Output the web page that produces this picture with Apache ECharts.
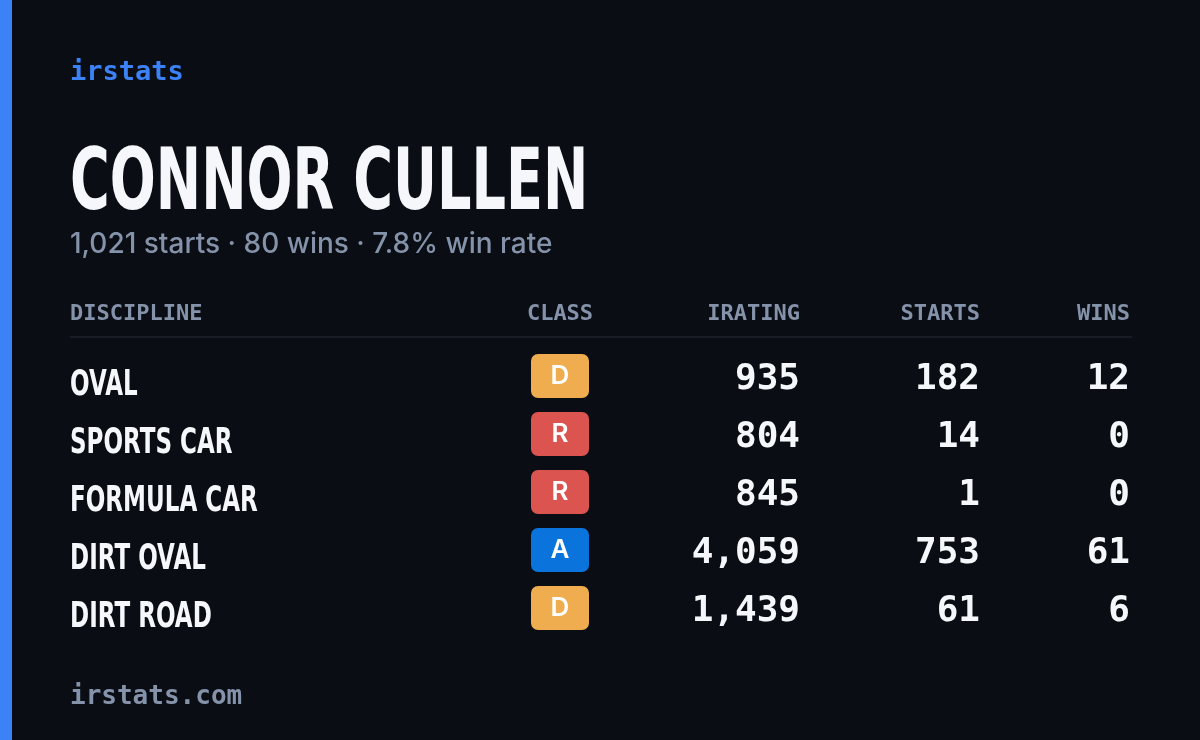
<!DOCTYPE html>
<html>
<head>
<meta charset="utf-8">
<script src="https://cdn.jsdelivr.net/npm/echarts@6/dist/echarts.min.js"></script>
<style>
  html, body { margin: 0; padding: 0; background: #0a0d14; }
  #chart { width: 1200px; height: 740px; }
</style>
</head>
<body>
<div id="chart"></div>
<script>
const driverName = 'CONNOR CULLEN'
const totalStarts = 1021
const totalWins = 80
const winRate = 7.8
const disciplines = ['OVAL', 'SPORTS CAR', 'FORMULA CAR', 'DIRT OVAL', 'DIRT ROAD']
const classes = ['D', 'R', 'R', 'A', 'D']
const iratings = [935, 804, 845, 4059, 1439]
const starts = [182, 14, 1, 753, 61]
const wins = [12, 0, 0, 61, 6]
const headers = ['DISCIPLINE', 'CLASS', 'IRATING', 'STARTS', 'WINS']

const classColors = { D: '#efad4f', R: '#db5450', A: '#0b74dc' }
const mono = '"DejaVu Sans Mono", monospace'
const narrow = '"DejaVu Sans", sans-serif'
const fmt = v => v.toLocaleString('en-US')

// column anchors (x pixels)
const colX = [70, 560, 800, 980, 1130]

const chart = echarts.init(document.getElementById('chart'))

chart.setOption({
    backgroundColor: '#0a0d14',
    animation: false,
    grid: { left: 0, right: 0, top: 349, bottom: 101 },
    xAxis: { type: 'value', min: 0, max: 1200, show: false },
    yAxis: { type: 'category', inverse: true, data: disciplines, show: false },
    graphic: [
        { type: 'rect', shape: { x: 0, y: 0, width: 12, height: 740 }, style: { fill: '#3b82f6' } },
        { type: 'text', x: 70, y: 73, style: { text: 'irstats', fill: '#3b82f6', font: 'bold 27px ' + mono, verticalAlign: 'middle' } },
        { type: 'text', x: 70, y: 187, scaleX: 0.63, style: { text: driverName, fill: '#f5f7fb', font: 'bold 86px ' + narrow, verticalAlign: 'middle' } },
        { type: 'text', x: 70, y: 245, style: {
            text: fmt(totalStarts) + ' starts · ' + totalWins + ' wins · ' + winRate.toFixed(1) + '% win rate',
            fill: '#8593aa', font: '500 28px Inter, "Noto Sans", sans-serif', verticalAlign: 'middle' } },
        ...headers.map((h, i) => ({
            type: 'text', x: colX[i], y: 314,
            style: { text: h, fill: '#8593aa', font: 'bold 22px ' + mono,
                align: i === 0 ? 'left' : (i === 1 ? 'center' : 'right'), verticalAlign: 'middle' }
        })),
        { type: 'rect', shape: { x: 70, y: 336, width: 1062, height: 2 }, style: { fill: '#181c27' } },
        { type: 'text', x: 70, y: 697, style: { text: 'irstats.com', fill: '#8593aa', font: 'bold 26px ' + mono, verticalAlign: 'middle' } }
    ],
    series: [{
        type: 'custom',
        data: disciplines.map((d, i) => [0, i]),
        renderItem: (params, api) => {
            const i = api.value(1)
            const y = api.coord([0, i])[1]
            const cls = classes[i]
            const num = (v, x) => ({ type: 'text', x: x, y: y + 2, style: { text: fmt(v), fill: '#f5f7fb',
                font: 'bold 36px ' + mono, align: 'right', verticalAlign: 'middle' } })
            return {
                type: 'group',
                children: [
                    { type: 'text', x: colX[0], y: y + 8, scaleX: 0.64, style: { text: disciplines[i], fill: '#f5f7fb',
                        font: 'bold 36px ' + narrow, verticalAlign: 'middle' } },
                    { type: 'rect', shape: { x: colX[1] - 29, y: y - 24, width: 58, height: 44, r: 7 },
                        style: { fill: classColors[cls] } },
                    { type: 'text', x: colX[1], y: y - 2, style: { text: cls, fill: '#ffffff',
                        font: '600 26px Inter, "Noto Sans", sans-serif', align: 'center', verticalAlign: 'middle' } },
                    num(iratings[i], colX[2]),
                    num(starts[i], colX[3]),
                    num(wins[i], colX[4])
                ]
            }
        }
    }]
})
</script>
</body>
</html>
